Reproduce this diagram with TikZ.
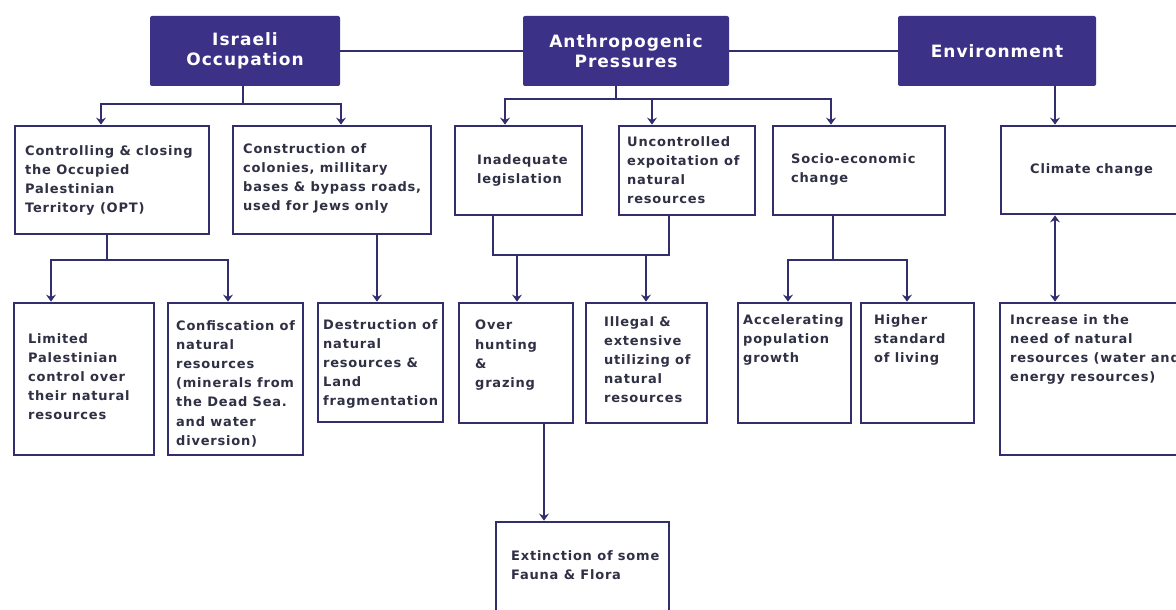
\documentclass[tikz,border=0pt]{standalone}
\usepackage{fontspec}
\setmainfont{DejaVu Sans}[LetterSpace=6]
\usetikzlibrary{arrows.meta}
\definecolor{hdr}{HTML}{3B3287}
\definecolor{ln}{HTML}{322E6E}
\definecolor{tx}{HTML}{303045}
\tikzset{
  box/.style={draw=ln, line width=2.8pt, inner sep=0pt, fill=white},
  hbox/.style={fill=hdr, rounded corners=2pt, inner sep=0pt, text=white,
    font=\bfseries\fontsize{17}{20}\selectfont, align=center},
  txt/.style={anchor=north west, inner sep=0pt, align=left, text=tx,
    font=\bfseries\fontsize{13}{19.2}\selectfont},
  con/.style={draw=ln, line width=2pt},
  arr/.style={con, -{Stealth[length=7pt,width=10pt,inset=2.5pt]}},
  darr/.style={con, {Stealth[length=7pt,width=10pt,inset=2.5pt]}-{Stealth[length=7pt,width=10pt,inset=2.5pt]}},
}
\newcommand\rbox[5]{\node[box, minimum width={#4-#2}, minimum height={#5-#3}] (#1) at ({(#2+#4)/2},{(#3+#5)/2}) {};}
\newcommand\hdbox[6]{\node[hbox, minimum width={#4-#2}, minimum height={#5-#3}] (#1) at ({(#2+#4)/2},{(#3+#5)/2}) {#6};}
\begin{document}
\begin{tikzpicture}[x=1pt,y=-1pt]
\clip (0,0) rectangle (1176,610);
\fill[white] (0,0) rectangle (1176,610);
% header boxes
\hdbox{io}{150}{16}{340}{86}{Israeli\\Occupation}
\hdbox{ap}{523}{16}{729}{86}{Anthropogenic\\Pressures}
\hdbox{env}{898}{16}{1096}{86}{Environment}
% second row
\rbox{ctrl}{15}{126}{209}{234}
\rbox{cons}{233}{126}{431}{234}
\rbox{ina}{455}{126}{582}{215}
\rbox{unc}{619}{126}{755}{215}
\rbox{soc}{773}{126}{945}{215}
\rbox{clim}{1001}{126}{1185}{214}
% third row
\rbox{lim}{14}{303}{154}{455}
\rbox{conf}{168}{303}{303}{455}
\rbox{dest}{318}{303}{443}{422}
\rbox{over}{459}{303}{573}{423}
\rbox{ill}{586}{303}{707}{423}
\rbox{acc}{738}{303}{851}{423}
\rbox{hig}{861}{303}{974}{423}
\rbox{inc}{1000}{303}{1185}{455}
\rbox{ext}{496}{522}{669}{616}
% texts
\node[txt] (ctrl-t) at (25,145) {Controlling \& closing\\the Occupied\\Palestinian\\Territory (OPT)};
\node[txt] (cons-t) at (243,143) {Construction of\\colonies, millitary\\bases \& bypass roads,\\used for Jews only};
\node[txt] (ina-t) at (477,154) {Inadequate\\legislation};
\node[txt] (unc-t) at (627,136) {Uncontrolled\\expoitation of\\natural\\resources};
\node[txt] (soc-t) at (791,153) {Socio-economic\\change};
\node[txt] (clim-t) at (1030,163) {Climate change};
\node[txt] (lim-t) at (28,333) {Limited\\Palestinian\\control over\\their natural\\resources};
\node[txt] (conf-t) at (176,320) {Confiscation of\\natural\\resources\\(minerals from\\the Dead Sea.\\and water\\diversion)};
\node[txt] (dest-t) at (323,319) {Destruction of\\natural\\resources \&\\Land\\fragmentation};
\node[txt] (over-t) at (475,320) {Over\\hunting\\\&\\grazing};
\node[txt] (ill-t) at (604,316) {Illegal \&\\extensive\\utilizing of\\natural\\resources};
\node[txt] (acc-t) at (743,314) {Accelerating\\population\\growth};
\node[txt] (hig-t) at (874,314) {Higher\\standard\\of living};
\node[txt] (inc-t) at (1010,314) {Increase in the\\need of natural\\resources (water and\\energy resources)};
\node[txt] (ext-t) at (511,550) {Extinction of some\\Fauna \& Flora};
% connectors
\draw[con] (io.east) -- (ap.west);
\draw[con] (ap.east) -- (env.west);
\draw[arr] (io.south -| 243,0) -- (243,104) -| (ctrl.north -| 101,0);
\draw[arr] (243,104) -| (cons.north -| 341,0);
\draw[arr] (ap.south -| 616,0) -- (616,99) -| (ina.north -| 505,0);
\draw[arr] (616,99) -| (soc.north -| 831,0);
\draw[arr] (652,99) -- (unc.north -| 652,0);
\draw[arr] (env.south -| 1055,0) -- (clim.north -| 1055,0);
\draw[arr] (ctrl.south -| 107,0) -- (107,260) -| (lim.north -| 51,0);
\draw[arr] (107,260) -| (conf.north -| 228,0);
\draw[arr] (cons.south -| 377,0) -- (dest.north -| 377,0);
\draw[con] (ina.south -| 493,0) -- (493,255) -- (669,255) -- (unc.south -| 669,0);
\draw[arr] (517,255) -- (over.north -| 517,0);
\draw[arr] (646,255) -- (ill.north -| 646,0);
\draw[arr] (soc.south -| 833,0) -- (833,260) -| (acc.north -| 788,0);
\draw[arr] (833,260) -| (hig.north -| 907,0);
\draw[darr] (clim.south -| 1055,0) -- (inc.north -| 1055,0);
\draw[arr] (over.south -| 544,0) -- (ext.north -| 544,0);
\end{tikzpicture}
\end{document}
